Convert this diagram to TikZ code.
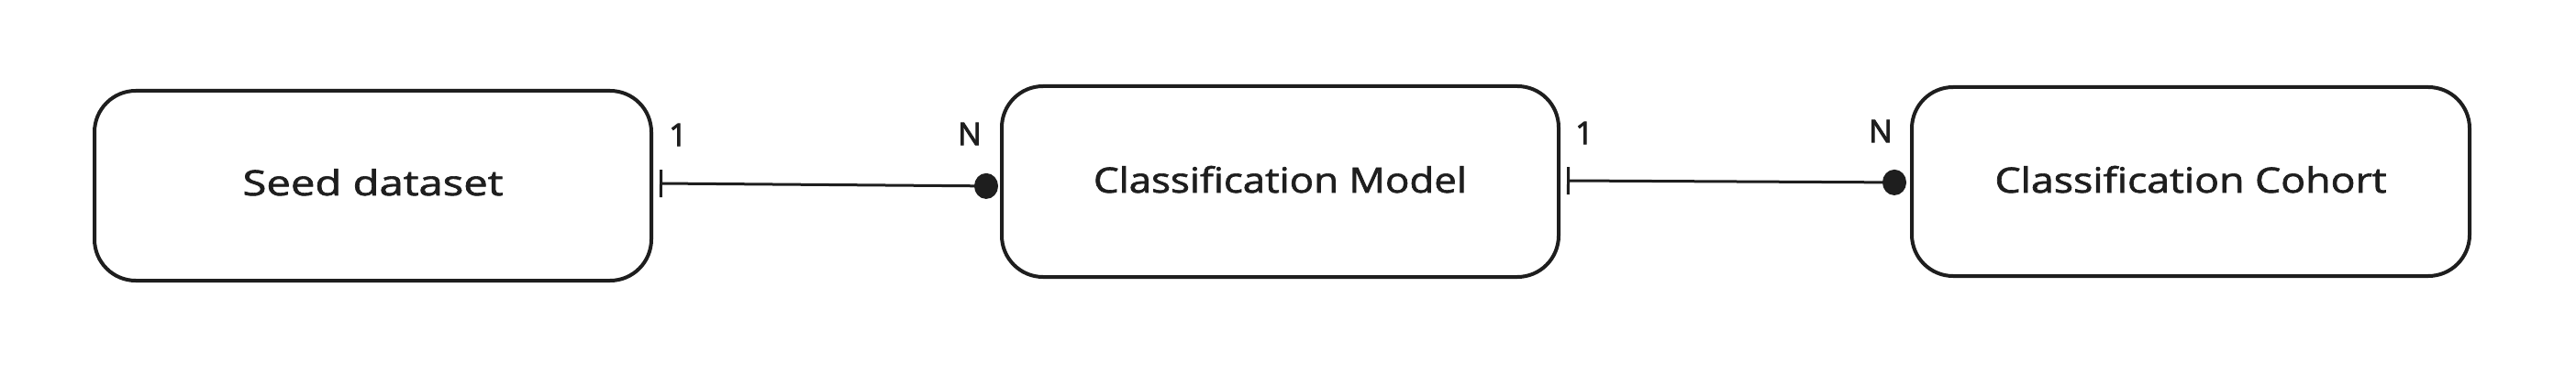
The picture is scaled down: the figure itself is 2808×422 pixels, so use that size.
\documentclass[tikz,border=0pt]{standalone}
\usepackage{fontspec}
\setmainfont{Open Sans}
\newfontfamily\inkfont[FakeBold=1.6]{Open Sans}
\newfontfamily\cardfont[FakeBold=2.6]{Open Sans}
\usepackage{graphicx}
\usetikzlibrary{arrows.meta}
\definecolor{ink}{HTML}{1E1E1E}
\begin{document}
\begin{tikzpicture}[x=1pt,y=-1pt,
  entity/.style={draw=ink, line width=4pt, rounded corners=45pt,
    minimum width=607pt, minimum height=207pt, inner sep=0pt,
    text=ink, font=\inkfont\fontsize{38pt}{40pt}\selectfont, text depth=0pt},
  card/.style={inner sep=0pt, text=ink, font=\cardfont\fontsize{34pt}{36pt}\selectfont},
  rel/.style={draw=ink, line width=3pt,
    {Bar[width=30pt,line width=3pt]}-{Circle[length=26pt,width=28pt]}}]
\useasboundingbox (0,0) rectangle (2808,422);
\fill[white] (0,0) rectangle (2808,422);
% entities
\node[entity, text height=21pt] (seed) at (406.5,202.5) {\resizebox{284pt}{\height}{Seed dataset}};
\node[entity, text height=24pt, minimum height=208pt] (model) at (1395.5,198) {\resizebox{407pt}{\height}{Classification Model}};
\node[entity, text height=24pt, minimum width=608pt, minimum height=206pt] (cohort) at (2388,198) {\resizebox{427pt}{\height}{Classification Cohort}};
% relationships
\draw[rel] ([xshift=7pt,yshift=2.5pt]seed.east) -- ([xshift=-2pt,yshift=-5pt]model.west);
\draw[rel] ([xshift=7pt,yshift=1pt]model.east) -- ([xshift=-4pt,yshift=-1pt]cohort.west);
% cardinalities
\node[card] (c1) at (739,147) {1};
\node[card] (n1) at (1057,146) {N};
\node[card] (c2) at (1727,145) {1};
\node[card] (n2) at (2050,143) {N};
\end{tikzpicture}
\end{document}
